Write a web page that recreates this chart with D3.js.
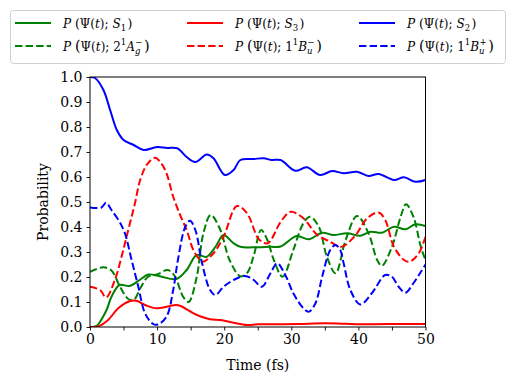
<!DOCTYPE html>
<meta charset="utf-8">
<head>
<title>Probability vs time</title>
<script src="https://d3js.org/d3.v7.min.js"></script>
<style>
    body { margin: 0; background: #fff; }
    svg, text { font-family: "DejaVu Serif", serif; fill: #000; }
    .tick text { font-size: 14px; }
    .domain { display: none; }
    .tick line { stroke: #000; stroke-width: 0.9; }
</style>
</head>
<body>
<div id="chart"></div>
<script>
// [time (fs), probability]
var s1 = [[0,0],[1,0.005],[1.7,0.03],[2.5,0.07],[3.2,0.121],[4.4,0.168],[5.9,0.164],[7.4,0.188],[8.7,0.21],[10.4,0.203],[12.9,0.192],[14.4,0.228],[15.9,0.288],[17.4,0.281],[18.7,0.321],[19.9,0.368],[21.4,0.335],[22.4,0.321],[24.9,0.319],[26.9,0.321],[28.4,0.322],[30.8,0.364],[32.6,0.351],[34.6,0.377],[36.3,0.368],[38.3,0.375],[40.3,0.365],[41.8,0.381],[43.5,0.377],[45.3,0.401],[47,0.391],[48.5,0.411],[50,0.404]];
var agMinus = [[0,0.221],[1,0.232],[2,0.239],[3.2,0.226],[4.5,0.16],[5.7,0.112],[6.5,0.108],[7.6,0.16],[8.6,0.2],[10,0.21],[11.6,0.228],[12.6,0.205],[13.9,0.12],[14.7,0.1],[15.9,0.2],[16.9,0.375],[18,0.448],[19.4,0.39],[20.8,0.268],[22.4,0.203],[23.4,0.215],[24.4,0.285],[25.5,0.388],[26.4,0.35],[27.4,0.268],[28.7,0.201],[30.3,0.308],[31.8,0.415],[32.8,0.441],[34.1,0.401],[35.3,0.281],[36.6,0.215],[38.1,0.348],[39.8,0.444],[41.5,0.375],[42.8,0.268],[43.5,0.245],[45,0.321],[46.3,0.441],[47.1,0.491],[48.2,0.441],[49.3,0.321],[50,0.268]];
var s3 = [[0,0],[1.2,0.002],[2.7,0.028],[4.2,0.075],[5.9,0.103],[6.9,0.105],[8.4,0.086],[9.9,0.075],[11.6,0.082],[12.8,0.088],[13.6,0.083],[14.9,0.063],[16.4,0.043],[17.9,0.031],[19.4,0.028],[21.4,0.017],[23.4,0.008],[25.1,0.011],[28,0.011],[31,0.012],[35,0.015],[38,0.013],[42,0.011],[46,0.012],[50,0.012]];
var buMinus = [[0,0.161],[1.5,0.148],[2.4,0.118],[3.7,0.188],[4.7,0.281],[5.7,0.388],[6.7,0.495],[7.5,0.59],[8.5,0.65],[9.7,0.677],[10.6,0.655],[11.4,0.615],[12.4,0.521],[13.4,0.45],[14.4,0.388],[15.4,0.308],[16.4,0.268],[16.9,0.261],[18.4,0.295],[19.9,0.361],[21.9,0.484],[23.4,0.455],[25.2,0.35],[26.5,0.335],[28.4,0.42],[29.9,0.461],[31.8,0.435],[33.8,0.37],[35.8,0.341],[37.5,0.321],[39.6,0.368],[41.3,0.435],[43,0.458],[44,0.428],[45.3,0.321],[46.8,0.268],[47.6,0.261],[49,0.295],[50,0.361]];
var s2 = [[0,1.0],[0.75,0.996],[2,0.948],[3,0.868],[4,0.788],[5,0.748],[6.5,0.728],[8,0.708],[10,0.72],[11.5,0.716],[13,0.715],[14.4,0.68],[15.7,0.66],[17.4,0.69],[18.4,0.675],[20.1,0.608],[21.4,0.628],[22.4,0.668],[24.4,0.672],[25.9,0.675],[27,0.668],[28.4,0.668],[30.6,0.625],[32.3,0.639],[34.3,0.608],[36.1,0.624],[37.8,0.615],[39.8,0.621],[41.5,0.604],[43,0.612],[45.3,0.588],[46.8,0.599],[48.5,0.581],[50,0.588]];
var buPlus = [[0,0.478],[1.7,0.478],[2.4,0.497],[3.2,0.468],[4.4,0.421],[5.2,0.375],[6.2,0.268],[7.2,0.161],[8.2,0.055],[9.4,0.012],[10.1,0.01],[11.4,0.041],[12.4,0.148],[13.1,0.268],[14.2,0.401],[14.9,0.425],[15.7,0.388],[16.7,0.255],[17.9,0.148],[18.7,0.128],[19.9,0.161],[21.4,0.188],[23.1,0.204],[24.4,0.188],[25.6,0.161],[26.9,0.215],[27.9,0.255],[29.1,0.208],[30.3,0.135],[31.8,0.075],[32.6,0.061],[33.6,0.095],[34.6,0.201],[35.8,0.308],[36.6,0.328],[37.3,0.308],[37.8,0.255],[38.8,0.148],[40.3,0.09],[42,0.135],[44,0.208],[45,0.201],[46,0.161],[47,0.137],[48.2,0.175],[49.3,0.22],[50,0.25]];

var xTicks = [0, 5, 10, 15, 20, 25, 30, 35, 40, 45, 50];
var xLabels = [0, 10, 20, 30, 40, 50];
var yTicks = [0, 0.1, 0.2, 0.3, 0.4, 0.5, 0.6, 0.7, 0.8, 0.9, 1.0];

// legend state labels as [text, style] tokens
var series = [
    {data: s1, color: "#008000", dash: false, state: [["S","i"],["1","sub"]]},
    {data: agMinus, color: "#008000", dash: true, state: [["2","r"],["1","sup"],["A","i"],["g","subi"],["\u2212","sup",-5]]},
    {data: s3, color: "#ff0000", dash: false, state: [["S","i"],["3","sub"]]},
    {data: buMinus, color: "#ff0000", dash: true, state: [["1","r"],["1","sup"],["B","i"],["u","subi"],["\u2212","sup",-5]]},
    {data: s2, color: "#0000ff", dash: false, state: [["S","i"],["2","sub"]]},
    {data: buPlus, color: "#0000ff", dash: true, state: [["1","r"],["1","sup"],["B","i"],["u","subi"],["+","sup",-5]]}
];

var W = 516, H = 384;
var margin = {left: 90, right: 90.5, top: 77, bottom: 57};
var w = W - margin.left - margin.right, h = H - margin.top - margin.bottom;

var svg = d3.select("#chart").append("svg")
    .attr("width", W).attr("height", H)
    .attr("font-family", "DejaVu Serif, serif");

var x = d3.scaleLinear().domain([0, 50]).range([0, w]);
var y = d3.scaleLinear().domain([0, 1]).range([h, 0]);

var g = svg.append("g").attr("transform", "translate(" + margin.left + "," + margin.top + ")");

svg.append("defs").append("clipPath").attr("id", "clip")
    .append("rect").attr("width", w).attr("height", h);

var line = d3.line()
    .x(function (d) { return x(d[0]); })
    .y(function (d) { return y(d[1]); })
    .curve(d3.curveCatmullRom.alpha(0.5));

g.append("g").attr("clip-path", "url(#clip)")
    .selectAll("path").data(series).enter().append("path")
    .attr("d", function (d) { return line(d.data); })
    .attr("fill", "none")
    .attr("stroke", function (d) { return d.color; })
    .attr("stroke-width", 2)
    .attr("stroke-dasharray", function (d) { return d.dash ? "7.4,3.2" : null; });

// frame
g.append("rect").attr("width", w).attr("height", h)
    .attr("fill", "none").attr("stroke", "#000").attr("stroke-width", 1);

g.append("g").attr("transform", "translate(0," + h + ")")
    .call(d3.axisBottom(x).tickValues(xTicks).tickSize(3.5).tickPadding(4)
        .tickFormat(function (d) { return xLabels.indexOf(d) >= 0 ? d : ""; }))
    .attr("font-family", null);

g.append("g")
    .call(d3.axisLeft(y).tickValues(yTicks).tickSize(3.5).tickPadding(4)
        .tickFormat(d3.format(".1f")))
    .attr("font-family", null);

g.append("text").attr("x", w / 2).attr("y", h + 43)
    .attr("text-anchor", "middle").style("font-size", "14px").text("Time (fs)");

g.append("text").attr("transform", "translate(-42," + (h / 2) + ") rotate(-90)")
    .attr("text-anchor", "middle").style("font-size", "14px").text("Probability");

// legend
var leg = svg.append("g");
leg.append("rect").attr("x", 10.5).attr("y", 10.5).attr("width", 495).attr("height", 53)
    .attr("rx", 3).attr("fill", "#fff").attr("fill-opacity", 0.8)
    .attr("stroke", "#d0d0d0").attr("stroke-width", 1);

var colX = [15, 187, 359], rowY = [23, 46];

function mathLabel(t, tokens, big) {
    var off = 0;
    function add(str, style, dx) {
        var size = 12, target = 0, italic = false;
        if (style === "i") italic = true;
        if (style === "sub" || style === "subi") { size = 8.5; target = 3.5; italic = style === "subi"; }
        if (style === "sup") { size = 8.5; target = -5.5; }
        var ts = t.append("tspan").text(str)
            .attr("dy", target - off)
            .style("font-size", size + "px")
            .style("font-style", italic ? "italic" : "normal");
        if (dx) ts.attr("dx", dx);
        off = target;
    }
    var pSize = big ? "14.5px" : "12.5px";
    add("P", "i");
    add(" ", "r");
    t.append("tspan").text("(").attr("dy", -off).style("font-size", pSize); off = 0;
    add("\u03a8(", "r");
    add("t", "i");
    add("); ", "r");
    tokens.forEach(function (k) { add(k[0], k[1], k[2]); });
    t.append("tspan").text(")").attr("dy", -off).attr("dx", 1.5).style("font-size", pSize); off = 0;
}

series.forEach(function (s, i) {
    var cx = colX[Math.floor(i / 2)], cy = rowY[i % 2];
    leg.append("line").attr("x1", cx).attr("x2", cx + 36).attr("y1", cy).attr("y2", cy)
        .attr("stroke", s.color).attr("stroke-width", 2)
        .attr("stroke-dasharray", s.dash ? "7.4,3.2" : null);
    var t = leg.append("text").attr("x", cx + 48).attr("y", cy + 4.5);
    mathLabel(t, s.state, s.dash);
});
</script>
</body>
</html>
